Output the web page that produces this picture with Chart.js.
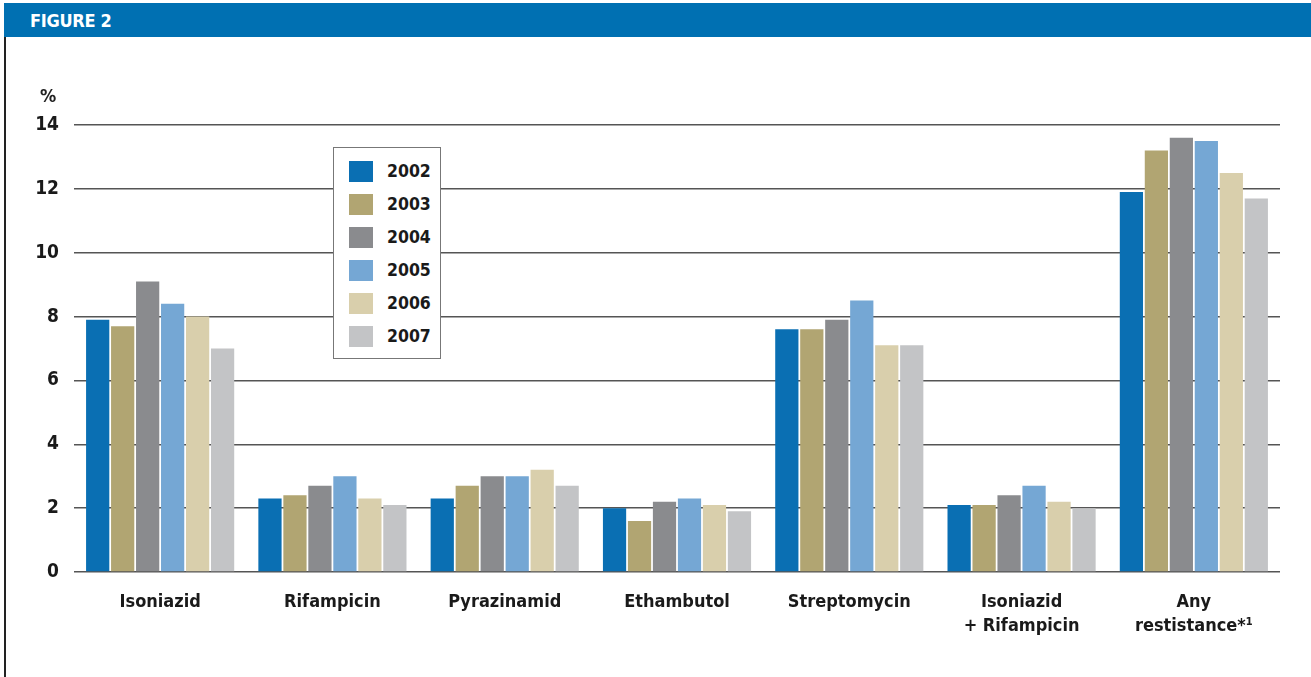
<!DOCTYPE html>
<html>
<head>
<meta charset="utf-8">
<script src="https://cdn.jsdelivr.net/npm/chart.js@4"></script>
<style>
  body { margin: 0; background: #fff; width: 1311px; height: 677px; overflow: hidden; position: relative; font-family: 'Liberation Sans Narrow', 'DejaVu Sans Condensed', 'Liberation Sans', sans-serif; }
  #band { position: absolute; left: 4px; top: 3px; width: 1307px; height: 34px; background: #0070b2; }
  #band span { position: absolute; left: 26px; top: 7px; color: #fff; font-weight: bold; font-size: 18px; letter-spacing: -0.3px; }
  #edge { position: absolute; left: 4px; top: 37px; width: 2px; height: 640px; background: #222; }
  #wrap { position: absolute; left: 7px; top: 38px; width: 1304px; height: 639px; }
  #pct { position: absolute; left: 40px; top: 85px; font-weight: bold; font-size: 18px; color: #222; }
  #legend { position: absolute; left: 333px; top: 147px; width: 106px; height: 210px; border: 1px solid #777; background: #fff; }
  .row { position: absolute; left: 15px; height: 22px; }
  .sw { position: absolute; left: 0; top: 0; width: 24px; height: 21px; }
  .lb { position: absolute; left: 38px; top: 0px; font-weight: bold; font-size: 17.5px; color: #1a1a1a; }
</style>
</head>
<body>
<div id="band"><span>FIGURE 2</span></div>
<div id="edge"></div>
<div id="wrap"><canvas id="myChart"></canvas></div>
<div id="pct">%</div>
<div id="legend"></div>
<script>
var categories = [['Isoniazid'], ['Rifampicin'], ['Pyrazinamid'], ['Ethambutol'], ['Streptomycin'], ['Isoniazid', '+ Rifampicin'], ['Any', 'restistance*\u00b9']];
var years = ['2002', '2003', '2004', '2005', '2006', '2007'];
var v2002 = [7.9, 2.3, 2.3, 2.0, 7.6, 2.1, 11.9];
var v2003 = [7.7, 2.4, 2.7, 1.6, 7.6, 2.1, 13.2];
var v2004 = [9.1, 2.7, 3.0, 2.2, 7.9, 2.4, 13.6];
var v2005 = [8.4, 3.0, 3.0, 2.3, 8.5, 2.7, 13.5];
var v2006 = [8.0, 2.3, 3.2, 2.1, 7.1, 2.2, 12.5];
var v2007 = [7.0, 2.1, 2.7, 1.9, 7.1, 2.0, 11.7];
var yTicks = [0, 2, 4, 6, 8, 10, 12, 14];

var colors = ['#0a6fb3', '#b1a572', '#8a8b8e', '#75a7d4', '#d9cfac', '#c3c4c6'];
var series = [v2002, v2003, v2004, v2005, v2006, v2007];
var fontFam = "'Liberation Sans Narrow', 'DejaVu Sans Condensed', 'Liberation Sans', sans-serif";

var datasets = [];
for (var i in years) {
    datasets.push({
        label: years[i],
        data: series[i],
        backgroundColor: colors[i],
        borderWidth: 0,
        categoryPercentage: 0.87,
        barPercentage: 0.93
    });
}

// legend box built from the datasets
var legend = document.getElementById('legend');
for (var j in years) {
    var row = document.createElement('div');
    row.className = 'row';
    row.style.top = (13 + j * 33) + 'px';
    row.innerHTML = '<div class="sw" style="background:' + colors[j] + '"></div><div class="lb">' + years[j] + '</div>';
    legend.appendChild(row);
}

var ctx = document.getElementById('myChart');
var chart = new Chart(ctx, {
    type: 'bar',
    data: { labels: categories, datasets: datasets },
    options: {
        responsive: true,
        maintainAspectRatio: false,
        animation: false,
        layout: { padding: { top: 87, right: 31, left: 0, bottom: 0 } },
        plugins: { legend: { display: false }, tooltip: { enabled: false } },
        scales: {
            x: {
                grid: { display: false },
                border: { display: false },
                ticks: { color: '#1a1a1a', padding: 11, font: { family: fontFam, size: 18, weight: 'bold', lineHeight: 1.3 }, maxRotation: 0 },
                afterFit: function(s) { s.height = 105; }
            },
            y: {
                min: 0,
                max: 14,
                afterBuildTicks: function(s) { s.ticks = yTicks.map(function(v) { return { value: v }; }); },
                grid: { color: '#555', lineWidth: 1.5, drawTicks: false },
                border: { display: false },
                ticks: { color: '#1a1a1a', padding: 15, font: { family: fontFam, size: 19, weight: 'bold' } },
                afterFit: function(s) { s.width = 67; }
            }
        }
    }
});
</script>
</body>
</html>
